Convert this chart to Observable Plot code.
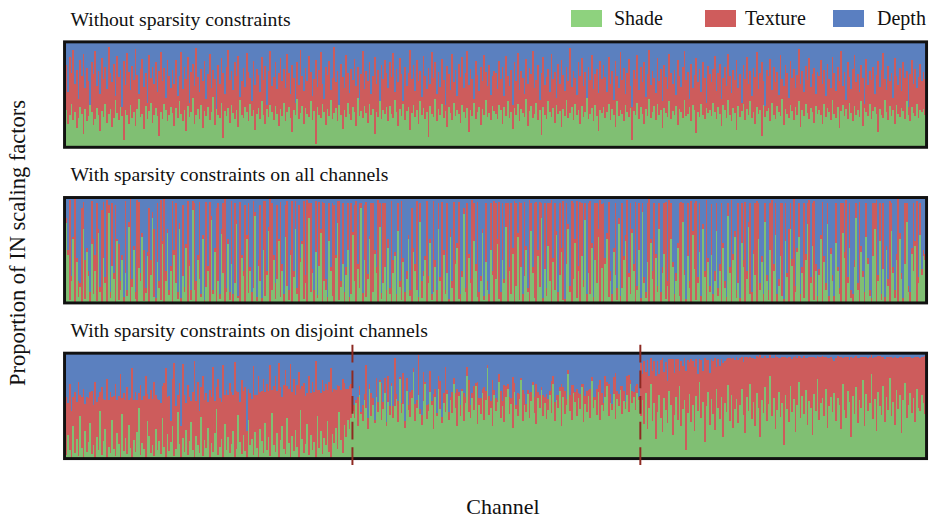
<!DOCTYPE html>
<html><head><meta charset="utf-8">
<script src="https://cdn.jsdelivr.net/npm/d3@7"></script>
<script src="https://cdn.jsdelivr.net/npm/@observablehq/plot@0.6"></script>
<style>
html,body{margin:0;padding:0;background:#fff;width:931px;height:520px;overflow:hidden;}
#wrap{position:relative;width:931px;height:520px;font-family:"Liberation Serif","Times New Roman",Times,serif;color:#111;}
#chart{position:absolute;left:0;top:0;}
.lab{position:absolute;white-space:nowrap;line-height:1.15;}
.sw{position:absolute;width:31px;height:17px;}
</style></head><body><div id="wrap"><div id="chart"></div>
<div id="legend"></div>
<div class="lab" id="ylab" style="left:18px;top:243px;font-size:22.5px;transform:translate(-50%,-50%) rotate(-90deg);">Proportion of IN scaling factors</div>
<div class="lab" id="xlab" style="left:503px;top:507px;font-size:22px;transform:translate(-50%,-50%);">Channel</div>
</div>
<script>
const panelKeys = ["A", "B", "C"];
const panelTitles = ["Without sparsity constraints", "With sparsity constraints on all channels", "With sparsity constraints on disjoint channels"];
const componentNames = ["Shade", "Texture", "Depth"];
const barColors = ["#80bf73", "#cd5c5c", "#5b80bf"];
const legendColors = ["#8ed27e", "#cf5c5c", "#5a7fc1"];

// Panel A: without sparsity constraints (percent per channel; texture = remainder)
const shadeA = [
28,35,22,30,41,25,33,18,27,38,31,12,36,24,29,40,33,21,26,37,30,15,34,28,41,23,31,36,19,27,44,32,25,38,29,6,35,30,22,40,27,33,20,36,45,28,31,17,39,26,34,42,23,30,37,29,10,33,26,41,35,24,30,38,
32,20,37,27,43,31,24,35,15,39,28,33,46,22,30,36,26,40,18,34,29,38,25,33,47,21,36,30,27,42,8,34,29,37,23,40,32,26,35,19,44,30,27,38,33,24,41,29,35,16,31,37,26,43,30,22,36,28,40,33,25,39,31,20,
36,29,42,24,33,38,27,14,35,30,45,26,32,39,22,37,31,28,43,25,34,3,38,30,27,41,33,21,36,29,44,26,32,37,24,40,30,17,35,28,42,31,25,38,33,20,46,29,34,27,39,32,23,41,30,36,12,33,28,43,26,35,31,38,
24,39,31,27,44,33,20,36,29,41,25,34,38,16,32,40,28,35,22,43,30,37,26,33,9,39,31,28,45,24,36,30,41,27,34,19,38,32,25,42,29,35,31,23,40,33,27,37,14,35,29,42,26,33,38,21,36,30,44,28,32,25,39,34,
31,26,40,35,22,38,29,43,27,33,17,37,30,41,24,36,32,28,45,20,34,39,27,31,42,25,35,11,38,30,26,43,33,28,37,23,40,31,34,19,36,29,44,27,32,38,25,41,30,35,22,39,28,33,46,26,31,37,24,40,29,15,35,32,
38,27,33,41,25,36,30,19,43,29,35,31,24,40,33,28,37,6,34,30,42,26,38,31,22,36,29,45,27,33,39,25,41,30,35,18,37,32,28,43,26,34,30,39,21,36,33,27,44,29,31,38,24,40,35,13,33,28,41,30,26,37,32,35,
29,42,33,26,38,31,20,40,35,27,44,30,24,37,32,16,39,28,34,41,25,36,30,43,27,33,22,38,31,35,10,40,28,34,37,24,42,30,26,39,33,29,45,21,36,31,27,40,34,25,38,30,43,19,35,29,41,32,26,37,33,23,39,31,
35,30,22,41,28,37,33,25,44,31,27,38,18,34,40,29,36,26,42,32,24,39,30,35,28,43,20,37,33,29,41,26,34,38,31,14,36,30,27,44,33,25,39,29,35,22,40,31,28,37,34,26,43,30,24,38,32,29,41,27,35,33,36,30];
const depthA = [
35,22,48,15,30,8,40,27,55,18,33,12,44,25,38,60,20,31,9,42,28,50,16,36,24,45,5,30,39,21,52,14,34,27,62,19,41,11,29,46,23,37,7,32,50,26,17,43,30,58,13,35,24,40,20,48,28,10,38,25,54,18,33,44,
27,40,18,52,33,10,45,24,36,15,58,29,21,42,6,34,48,26,38,19,55,31,12,44,27,36,65,22,40,16,30,50,24,8,37,28,46,20,33,14,53,38,25,43,11,29,35,57,19,41,26,32,48,15,37,23,60,28,9,42,34,20,45,30,
16,38,26,44,12,30,50,22,35,58,20,41,8,33,47,25,38,14,29,52,36,18,43,27,10,40,55,24,32,19,46,35,5,39,28,61,21,34,44,13,30,49,26,37,17,42,24,56,31,9,45,28,38,20,50,33,15,40,27,63,22,36,18,30,
44,20,34,11,48,26,39,16,31,57,24,42,30,8,36,22,47,18,38,28,53,14,33,45,25,40,10,35,20,50,29,43,17,37,60,23,31,46,12,39,27,52,21,34,15,44,30,9,41,26,36,55,19,32,47,24,38,13,29,42,22,51,33,28,
30,45,19,36,24,52,14,33,42,27,60,20,38,11,46,28,35,50,17,40,25,31,9,44,37,22,56,30,15,41,34,26,48,12,36,29,54,21,40,18,32,47,24,38,6,43,28,35,51,20,33,16,42,29,58,24,37,13,45,31,26,49,19,36,
22,34,48,15,40,28,56,19,33,44,10,37,25,50,30,17,42,62,27,36,13,46,24,39,20,53,31,8,41,28,35,49,16,38,26,57,22,34,45,12,30,40,27,51,18,33,43,24,9,37,29,55,21,44,32,16,39,26,48,20,35,58,23,31,
39,26,14,47,30,21,55,35,24,42,12,33,49,27,37,18,44,31,58,22,36,15,40,28,52,25,34,10,45,30,20,38,61,27,33,17,46,24,39,29,51,13,36,42,22,30,54,19,35,26,44,32,7,40,28,48,23,37,16,43,31,25,50,29,
33,18,40,27,52,21,36,44,15,30,47,24,38,9,42,29,56,20,34,45,26,13,39,31,48,22,35,59,17,41,28,37,24,50,32,19,43,27,11,36,46,23,38,30,54,16,33,41,25,47,20,35,28,62,31,18,40,26,44,34,21,38,29,36];

// Panel B: sparsity constraints on all channels (texture = remainder)
const shadeB = [
12,75,45,2,20,60,0,38,5,15,0,70,3,48,25,0,55,8,30,1,66,10,0,42,18,0,85,4,35,22,0,58,2,12,40,0,28,6,72,0,15,50,3,0,33,20,62,1,9,44,0,26,80,5,0,38,14,2,55,0,20,66,7,30,
0,45,18,3,70,0,25,10,52,0,35,2,88,12,0,40,22,5,60,0,15,30,0,78,8,48,0,20,3,65,28,0,10,55,2,36,0,18,74,4,0,42,25,0,60,9,30,0,14,82,1,35,20,0,50,6,26,68,0,12,40,3,22,58,
5,30,0,62,16,2,45,0,24,70,8,0,38,55,3,18,0,80,10,28,0,48,4,35,66,0,20,12,0,58,30,6,0,42,75,2,15,36,0,26,50,0,8,64,20,0,32,14,90,0,40,5,22,60,0,10,46,28,0,72,3,18,34,0,
52,8,0,28,44,0,68,15,2,38,0,22,60,6,0,48,30,12,0,76,4,25,40,0,18,56,2,10,34,0,70,20,0,45,8,28,0,62,14,0,36,52,3,0,24,84,10,0,42,18,0,58,30,5,0,20,66,2,38,12,0,50,26,0,
22,55,3,0,40,18,72,0,30,8,46,0,16,62,2,34,0,25,50,10,0,68,28,4,0,44,15,80,0,32,6,54,20,0,38,12,64,0,26,48,2,0,36,70,10,0,22,56,4,30,0,44,15,78,0,28,8,52,0,40,18,62,0,33,
0,36,60,5,20,0,48,26,2,74,0,14,40,58,0,24,8,66,30,0,12,50,0,86,18,4,38,0,56,22,0,42,10,70,0,28,46,3,16,0,60,34,0,20,52,6,0,76,26,0,44,14,0,64,32,2,18,48,0,70,24,0,38,10,
45,0,20,68,6,30,0,52,14,0,82,28,0,40,62,4,18,0,56,34,0,22,72,8,0,46,26,0,60,12,38,0,76,20,2,50,0,30,64,0,16,44,6,0,58,24,0,70,35,0,10,48,62,0,28,4,40,74,0,18,54,2,30,0,
26,60,0,38,12,74,0,46,20,0,56,30,8,0,66,42,0,18,52,4,0,34,80,12,0,48,24,0,62,36,6,0,44,70,0,20,58,2,32,0,50,16,0,68,28,4,40,0,60,22,0,36,76,10,0,46,30,54,0,18,64,26,44,40];
const depthB = [
4,20,50,3,75,38,2,58,80,82,10,5,60,48,70,90,4,40,55,6,30,85,12,5,76,3,8,90,6,72,8,40,45,80,55,95,4,88,24,1,78,46,90,3,5,72,34,50,86,52,10,60,14,30,96,6,80,3,42,2,70,30,88,65,
4,50,6,90,25,96,8,85,45,4,60,88,4,6,80,55,5,92,36,98,5,65,5,18,88,48,10,6,92,30,6,2,86,40,90,4,92,6,22,94,5,55,70,8,36,6,66,90,4,14,95,60,8,96,4,4,70,28,2,6,55,82,8,40,
5,64,92,8,4,88,50,4,70,4,86,8,58,42,4,74,3,6,6,68,88,4,93,5,30,5,6,78,95,6,66,6,8,55,4,4,80,6,90,66,6,95,6,33,8,4,64,6,6,91,8,5,73,37,6,6,50,66,3,6,91,6,6,88,
40,86,4,60,52,92,6,80,4,58,90,70,36,88,10,48,64,4,95,6,80,70,56,4,75,40,92,4,60,88,6,76,5,50,88,6,97,30,80,5,60,44,5,92,70,10,86,6,54,78,3,6,64,5,90,75,30,94,6,80,92,6,70,4,
6,40,5,90,6,78,6,6,66,6,48,4,6,34,5,6,92,5,46,86,3,6,66,6,5,50,5,6,96,6,86,6,6,3,58,6,32,90,6,48,4,97,6,26,84,4,6,40,4,65,5,6,79,6,92,6,4,44,95,6,6,30,3,7,
6,58,34,5,70,92,48,6,86,20,94,6,56,36,3,72,6,30,64,5,84,6,96,6,76,90,6,2,40,70,6,54,84,6,90,66,6,5,80,3,6,62,92,72,44,6,5,6,69,97,6,80,4,32,6,4,76,6,94,26,70,3,58,84,
7,92,70,6,86,64,6,44,80,95,6,66,3,54,32,88,6,96,6,60,5,70,24,6,90,50,6,4,6,82,56,92,6,74,88,6,3,64,6,92,78,6,6,97,6,72,30,6,59,2,84,48,6,92,66,6,54,6,3,76,6,4,64,94,
68,36,5,56,82,6,94,48,74,94,6,66,86,6,6,52,3,76,6,88,92,60,6,82,5,46,70,90,6,58,88,96,6,6,3,74,6,92,6,95,46,78,4,6,66,88,54,2,34,72,96,6,6,84,90,48,6,42,4,76,6,68,50,54];

// Panel C: sparsity constraints on disjoint channels, three channel groups (depth = remainder)
const shadeC1 = [
14,3,22,8,0,30,5,18,2,40,10,0,26,6,15,33,4,12,0,20,8,45,3,16,28,0,11,5,36,9,2,24,13,0,42,7,19,4,31,10,0,17,6,25,48,3,14,9,0,35,21,5,12,2,28,8,16,
4,38,11,0,23,7,15,30,2,9,44,13,0,19,6,27,3,16,34,8,0,21,12,5,39,2,17,10,29,0,14,6,24,47,3,11,18,0,32,8,20,5,13,26,1,9,41,15,4,22,7,0,36,12,18,3,25,
10,0,28,16,5,33,8,20,2,43,12,6,24,0,17,30,9,4,38,14,1,21,7,27,11,0,46,18,5,13,32,3,22,8,15,0,40,10,26,4,19,12,35,6,0,23,14,29,9,44,17,5,31,20,36,28,38];
const textureC1 = [
40,55,30,62,45,28,58,35,70,20,48,66,25,52,42,30,60,38,72,33,50,18,64,40,27,75,44,58,22,50,68,31,46,80,15,55,36,63,24,47,85,38,57,30,14,66,41,50,78,26,35,60,44,70,32,48,39,
48,30,60,85,35,52,20,45,88,40,16,58,30,70,54,25,66,42,20,55,92,33,60,40,28,76,38,52,24,65,44,80,30,20,72,46,35,88,28,57,40,66,50,34,90,55,22,38,70,42,60,26,30,50,38,84,35,
50,78,35,48,70,30,62,44,86,22,56,72,40,90,50,28,60,80,30,52,88,42,68,33,58,82,20,50,66,46,30,75,40,64,48,92,25,55,36,70,45,58,30,66,85,40,52,36,60,24,48,70,40,46,30,40,32];
const shadeC2 = [
45,38,52,30,60,42,35,55,48,28,66,40,50,33,58,44,72,36,47,62,30,53,41,68,38,49,56,34,75,43,51,29,64,46,39,57,82,35,48,60,42,31,54,70,37,45,63,50,28,58,40,66,47,33,52,44,61,
36,55,43,70,48,30,59,40,64,35,52,78,44,38,57,46,68,32,50,42,62,36,55,85,41,48,30,60,45,53,72,38,49,34,58,66,42,51,29,63,47,40,56,74,35,50,44,61,38,54,69,43,32,57,48,65,40,
52,37,46,60,43,70,35,55,48,64,30,58,42,50,80,45,36,62,53,40,57,47,67,34,51,44,59,38,73,48,55,41,63,36,50,45,58,68,40,52,46,61,37,56,49,65,42,54,47,60,44,70,52,58,46,62,55];
const textureC2 = [
5,12,3,28,8,2,15,6,40,10,4,22,7,3,18,9,2,35,6,14,4,25,8,3,11,46,5,20,2,9,30,6,12,4,24,8,3,16,7,38,5,10,28,2,13,6,20,4,33,8,3,12,26,6,10,42,4,
8,3,20,6,14,36,4,10,2,27,6,8,30,12,5,22,3,40,7,15,4,31,9,3,18,6,44,5,12,2,8,26,5,35,10,4,16,6,48,8,3,22,5,2,30,11,7,4,24,9,3,15,38,6,12,2,20,
6,24,10,4,30,8,18,5,12,3,40,9,22,6,4,15,33,7,10,26,5,14,3,36,8,20,6,28,4,10,3,25,6,38,12,7,20,4,30,9,5,16,44,8,12,3,26,10,6,18,35,4,12,5,22,8,3];
const shadeC3 = [
40,55,32,62,28,48,70,35,52,18,44,60,38,25,57,46,33,64,50,22,41,58,36,68,30,47,55,8,43,61,34,50,26,59,45,72,38,53,15,49,63,31,56,42,27,66,48,37,58,20,52,44,69,35,60,29,47,
56,33,50,66,41,24,58,45,70,37,53,30,62,48,20,55,43,67,35,51,78,40,57,28,46,63,39,52,12,60,47,34,68,44,56,25,50,72,38,59,42,65,31,54,48,22,61,45,75,36,52,57,40,66,29,49,58,
44,62,35,57,50,28,70,46,38,64,53,20,59,42,67,33,55,48,74,30,61,45,52,80,37,56,26,63,49,41,68,34,58,46,76,40,53,31,65,47,60,24,55,71,38,50,62,43,57,34,66,48,45,60,52,42];
const textureC3 = [
50,25,60,20,65,30,25,48,40,60,48,20,55,70,25,45,40,30,44,72,40,36,58,15,62,40,40,75,50,30,60,42,60,35,35,22,55,30,80,44,30,50,38,50,68,20,46,50,36,70,40,50,26,60,34,66,46,
40,60,45,30,50,72,38,50,26,58,42,64,35,48,78,40,52,30,60,44,20,55,38,70,50,32,56,44,84,36,48,62,28,50,40,72,45,25,58,36,55,30,64,42,48,74,35,50,22,60,44,40,56,30,66,46,38,
50,30,60,40,46,68,25,50,58,32,40,76,36,54,30,62,40,48,22,66,35,50,44,18,58,40,70,34,48,55,28,60,38,50,20,56,42,65,30,48,36,72,40,25,58,46,34,52,38,62,30,48,50,36,44,55];

const shadeC = shadeC1.concat(shadeC2, shadeC3);
const textureC = textureC1.concat(textureC2, textureC3);
const groupBounds = [shadeC1.length, shadeC1.length + shadeC2.length];

// long-format table, stacked Shade -> Texture -> Depth
const rows = [];
function addPanel(p, shade, texture, depth) {
  for (let i = 0; i < shade.length; i++) {
    const s = shade[i];
    let t, d;
    if (depth) { d = Math.min(depth[i], 100 - s); t = 100 - s - d; }
    else { t = Math.min(texture[i], 100 - s); d = 100 - s - t; }
    rows.push({p, i, c: "Shade", v: s});
    rows.push({p, i, c: "Texture", v: t});
    rows.push({p, i, c: "Depth", v: d});
  }
}
addPanel("A", shadeA, null, depthA);
addPanel("B", shadeB, null, depthB);
addPanel("C", shadeC, textureC, null);

const nChannels = Math.max(shadeA.length, shadeB.length, shadeC.length);
const titles = panelKeys.map((p, k) => ({p, t: panelTitles[k]}));
const splits = groupBounds.map(x => ({p: "C", x}));
const serif = '"Liberation Serif","Times New Roman",Times,serif';

const chart = Plot.plot({
  width: 945,
  height: 520,
  marginLeft: 65,
  marginRight: 5,
  marginTop: 41,
  marginBottom: 53,
  style: {fontFamily: serif, fontSize: "20px", background: "transparent", color: "#111"},
  x: {domain: [0, nChannels], axis: null},
  y: {domain: [0, 100], axis: null},
  fy: {domain: panelKeys, axis: null, paddingInner: 0.32, paddingOuter: 0},
  color: {domain: componentNames, range: barColors},
  marks: [
    Plot.rectY(rows, {x: "i", interval: 1, y: "v", fill: "c", fy: "p", order: null, inset: 0, insetLeft: 0, insetRight: 0, shapeRendering: "crispEdges"}),
    Plot.frame({stroke: "#111", strokeWidth: 3}),
    Plot.ruleX(splits, {x: "x", fy: "p", stroke: "#8e2a22", strokeWidth: 2, strokeDasharray: "18,8", insetTop: -8, insetBottom: -11}),
    Plot.text(titles, {fy: "p", text: "t", frameAnchor: "top-left", textAnchor: "start", lineAnchor: "middle", dx: 6, dy: -23, fill: "#111", fontSize: 20, fontFamily: serif})
  ]
});
document.getElementById("chart").appendChild(chart);

// legend
const legendX = [[571, 614], [705, 745], [833, 877]];
const legend = document.getElementById("legend");
componentNames.forEach((name, k) => {
  const sw = document.createElement("div");
  sw.className = "sw";
  sw.style.left = legendX[k][0] + "px";
  sw.style.top = "10px";
  sw.style.background = legendColors[k];
  legend.appendChild(sw);
  const tx = document.createElement("div");
  tx.className = "lab";
  tx.style.left = legendX[k][1] + "px";
  tx.style.top = "18px";
  tx.style.fontSize = "20px";
  tx.style.transform = "translateY(-50%)";
  tx.textContent = name;
  legend.appendChild(tx);
});
</script>
</body></html>
